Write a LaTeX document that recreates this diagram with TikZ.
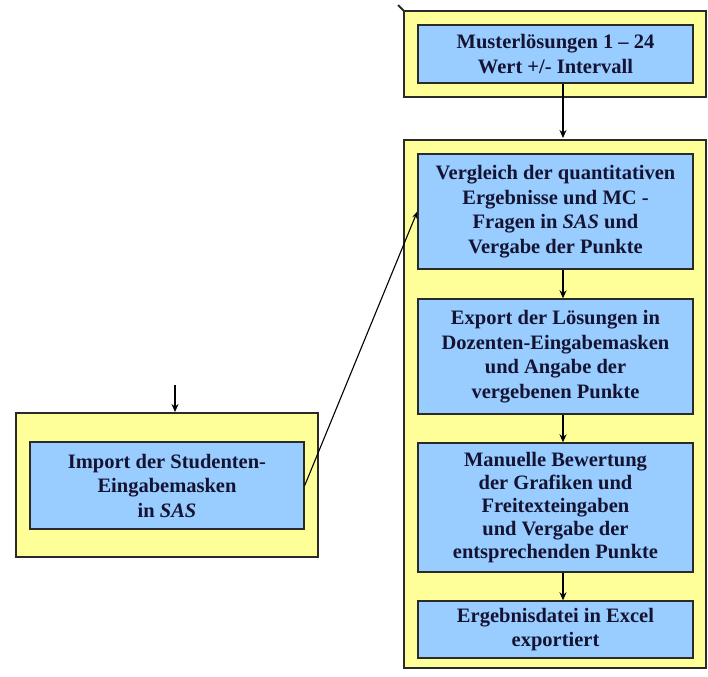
\documentclass[tikz,border=0pt]{standalone}
\usepackage{fontspec}
\setmainfont{Liberation Serif}
\usetikzlibrary{arrows.meta}
\definecolor{ybox}{HTML}{FFFF99}
\definecolor{bbox}{HTML}{99CCFF}
\definecolor{txt}{HTML}{141432}
\definecolor{edge}{HTML}{2A2A2A}
\begin{document}
\begin{tikzpicture}[x=1pt,y=-1pt,
  outer/.style={draw=edge,line width=1.4pt,fill=ybox},
  inner/.style={draw=edge,line width=1.4pt,fill=bbox,inner sep=0pt,
    font=\fontsize{20.5}{24.5}\selectfont\bfseries,text=txt,align=center},
  tight/.style={font=\fontsize{20.5}{22.8}\selectfont\bfseries},
  conn/.style={draw=black,line width=1.3pt,-{Stealth[length=8pt,width=7pt]}}]
\useasboundingbox (0,0) rectangle (708,676);
% outer yellow boxes
\draw[outer] (404,11) rectangle (706,97);
\draw[outer] (404,140) rectangle (706,668);
\draw[outer] (16,413) rectangle (318,557);
\draw[edge,line width=2pt] (398,5) -- (404,11);
% inner blue boxes
\node[inner,minimum width=275pt,minimum height=58pt] (m) at (555.5,54) {Musterlösungen 1 – 24\\Wert +/- Intervall};
\node[inner,minimum width=275pt,minimum height=115pt] (v) at (555.5,211.5) {Vergleich der quantitativen\\Ergebnisse und MC -\\Fragen in \textit{SAS} und\\Vergabe der Punkte};
\node[inner,minimum width=275pt,minimum height=115pt] (e) at (555.5,356.5) {Export der Lösungen in\\Dozenten-Eingabemasken\\und Angabe der\\vergebenen Punkte};
\node[inner,tight,minimum width=275pt,minimum height=129pt] (b) at (555.5,507.5) {Manuelle Bewertung\\der Grafiken und\\Freitexteingaben\\und Vergabe der\\entsprechenden Punkte};
\node[inner,minimum width=275pt,minimum height=57pt] (x) at (555.5,629.5) {Ergebnisdatei in Excel\\exportiert};
\node[inner,minimum width=274pt,minimum height=87pt] (i) at (167,485.5) {Import der Studenten-\\Eingabemasken\\in \textit{SAS}};
% connectors
\coordinate (t1) at (563,138);
\coordinate (s0) at (175,385);
\coordinate (t0) at (175,412);
\draw[conn] (m.south -| t1) -- (t1);
\draw[conn] (v.south -| t1) -- (e.north -| t1);
\draw[conn] (e.south -| t1) -- (b.north -| t1);
\draw[conn] (b.south -| t1) -- (x.north -| t1);
\draw[conn] (s0) -- (t0);
\draw[line width=1.1pt,-{Stealth[length=7pt,width=5pt]}] (i.east) -- (v.west);
\end{tikzpicture}
\end{document}
